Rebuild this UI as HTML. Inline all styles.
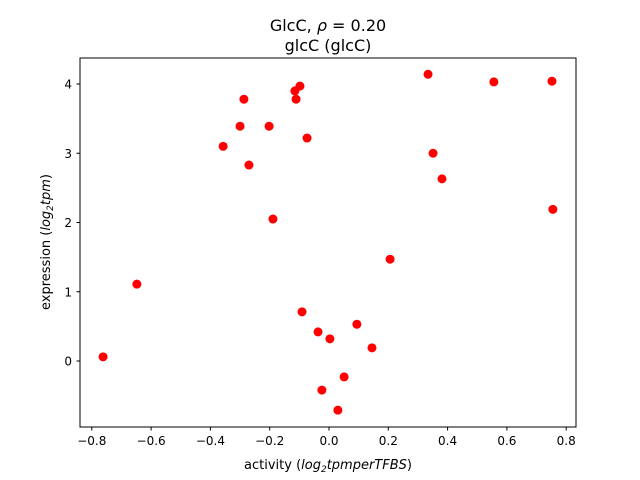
<!DOCTYPE html>
<html><head><meta charset="utf-8"><style>
body{margin:0;background:#fff;}
svg{display:block;font-family:"DejaVu Sans","Liberation Sans",sans-serif;}
</style></head><body>
<svg id="chart" width="640" height="480">
<rect width="640" height="480" fill="#fff"/>
<text x="328" y="31" text-anchor="middle" font-size="16">GlcC, <tspan font-style="italic">ρ</tspan> = 0.20</text>
<text x="328" y="51" text-anchor="middle" font-size="16">glcC (glcC)</text>
<g id="xt"></g>
<g id="yt"></g>
<g id="pts"></g>
<rect x="80" y="58" width="496" height="369" fill="none" stroke="#000" stroke-width="1"/>
<text x="328" y="469" text-anchor="middle" font-size="13">activity (<tspan font-style="italic">log</tspan><tspan font-size="9" dy="3" font-style="italic">2</tspan><tspan dy="-3" font-style="italic">tpmperTFBS</tspan>)</text>
<text transform="translate(50,242) rotate(-90)" text-anchor="middle" font-size="13">expression (<tspan font-style="italic">log</tspan><tspan font-size="9" dy="3" font-style="italic">2</tspan><tspan dy="-3" font-style="italic">tpm</tspan>)</text>
</svg>
<script>
const xTicks=[-0.8,-0.6,-0.4,-0.2,0.0,0.2,0.4,0.6,0.8];
const yTicks=[0,1,2,3,4];
const activity=[-0.762,-0.648,-0.357,-0.30,-0.287,-0.27,-0.202,-0.189,-0.115,-0.111,-0.098,-0.074,-0.091,-0.037,-0.024,0.003,0.030,0.051,0.094,0.145,0.206,0.334,0.351,0.381,0.556,0.752,0.755];
const expression=[0.06,1.11,3.10,3.39,3.78,2.83,3.39,2.05,3.90,3.78,3.97,3.22,0.71,0.42,-0.42,0.32,-0.71,-0.23,0.53,0.19,1.47,4.14,3.00,2.63,4.03,4.04,2.19];
const NS="http://www.w3.org/2000/svg";
function sx(v){return 329+v*296.5;}
function sy(v){return 361-v*69.25;}
const xt=document.getElementById('xt'),yt=document.getElementById('yt'),pts=document.getElementById('pts');
xTicks.forEach(t=>{
 const l=document.createElementNS(NS,'line');
 l.setAttribute('x1',sx(t));l.setAttribute('x2',sx(t));l.setAttribute('y1',427);l.setAttribute('y2',430.5);l.setAttribute('stroke','#000');
 
 
 xt.appendChild(l);
 const s=document.createElementNS(NS,'text');
 s.setAttribute('x',sx(t));s.setAttribute('y',445);s.setAttribute('text-anchor','middle');s.setAttribute('font-size','12');
 s.textContent=(t<0?'\u2212':'')+Math.abs(t).toFixed(1);
 
 
 xt.appendChild(s);
});
yTicks.forEach(t=>{
 const l=document.createElementNS(NS,'line');
 l.setAttribute('x1',76.5);l.setAttribute('x2',80);l.setAttribute('y1',sy(t));l.setAttribute('y2',sy(t));l.setAttribute('stroke','#000');
 
 
 yt.appendChild(l);
 const s=document.createElementNS(NS,'text');
 s.setAttribute('x',72);s.setAttribute('y',sy(t)+4.5);s.setAttribute('text-anchor','end');s.setAttribute('font-size','12');
 s.textContent=t;
 
 
 yt.appendChild(s);
});
activity.forEach((a,i)=>{
 const c=document.createElementNS(NS,'circle');
 c.setAttribute('cx',sx(a));c.setAttribute('cy',sy(expression[i]));c.setAttribute('r',4.5);c.setAttribute('fill','#ff0000');
 
 
 pts.appendChild(c);
});
</script>
</body></html>
